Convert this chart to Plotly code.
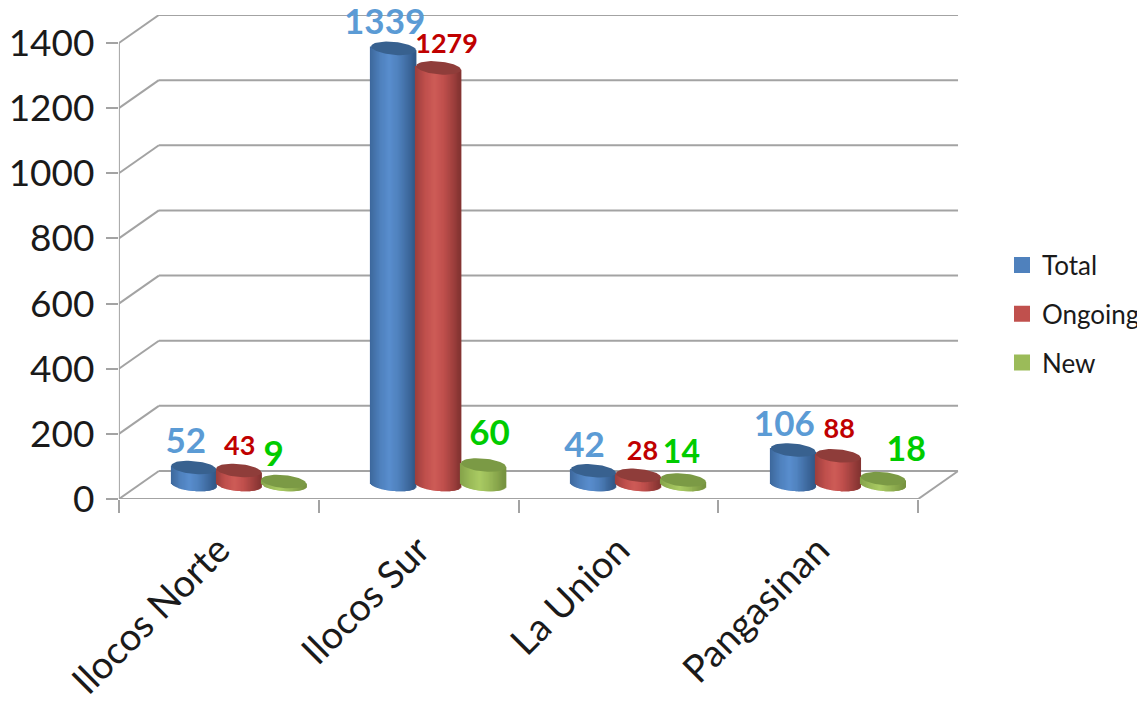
"""
Cylinder chart of projects per province, drawn with strips of narrow bars
"""

import numpy as np
import plotly.graph_objects as go

provinces = ["Ilocos Norte", "Ilocos Sur", "La Union", "Pangasinan"]
total = [52, 1339, 42, 106]
ongoing = [43, 1279, 28, 88]
new = [9, 60, 14, 18]
y_ticks = [0, 200, 400, 600, 800, 1000, 1200, 1400]

# label offsets from the cylinder top, in pixels (right, up)
total_label_dx = [-8, -9, -9, -9]
total_label_dy = [23, 23, 23, 23]
ongoing_label_dx = [1, 8, 4, 1]
ongoing_label_dy = [22, 22, 22, 25]
new_label_dx = [-10, 6, -2, 23]
new_label_dy = [24, 29, 25, 26]

GRID = "#a3a3a3"
FONT = "Lato"
W, H = 1137, 693  # the page body adds an 8px margin
PX_X = 1 / 200  # category units per pixel
PX_Y = 1 / 0.3257  # value units per pixel
DEPTH_X = 40 * PX_X
DEPTH_Y = 28 * PX_Y
FLOOR = 14.5 * PX_Y  # cylinder base height above the front axis
CYL_W = 45 * PX_X
RY = 6.5 * PX_Y
TILT = 2 * PX_Y
N_STRIPS = 46

series = [
    dict(name="Total", values=total, dx=total_label_dx, dy=total_label_dy, offset=-45,
         swatch="#4f81bd", edge=(50, 88, 135), mid=(79, 129, 189), light=(90, 142, 206),
         top="#38618f", label="#5b9bd5", sizes=[35, 35, 35, 35]),
    dict(name="Ongoing", values=ongoing, dx=ongoing_label_dx, dy=ongoing_label_dy, offset=0,
         swatch="#c0504d", edge=(132, 52, 50), mid=(192, 80, 77), light=(206, 92, 88),
         top="#8f3d3a", label="#c00000", sizes=[27, 27, 27, 27]),
    dict(name="New", values=new, dx=new_label_dx, dy=new_label_dy, offset=45,
         swatch="#9bbb59", edge=(118, 146, 64), mid=(155, 187, 89), light=(170, 203, 100),
         top="#7b9a45", label="#00cc00", sizes=[35, 35, 32, 34]),
]


def shade(t, s):
    """Colour across the cylinder, t runs from -1 to 1"""
    k = abs(t + 0.15) / 1.15
    if k < 0.35:
        a, b, f = s["light"], s["mid"], k / 0.35
    else:
        a, b, f = s["mid"], s["edge"], (k - 0.35) / 0.65
    f = min(f, 1)
    return "rgb(%d,%d,%d)" % tuple(a[i] + (b[i] - a[i]) * f for i in range(3))


fig = go.Figure()

for s in series:
    xs, bases, heights, colors = [], [], [], []
    for i, v in enumerate(s["values"]):
        cx = i + 0.5 + DEPTH_X / 2 + s["offset"] * PX_X
        for t in np.linspace(-1, 1, N_STRIPS + 1)[:-1] + 1 / N_STRIPS:
            low = FLOOR - RY * np.sqrt(1 - t * t) - TILT * t
            high = FLOOR + v - TILT * t
            xs.append(cx + t * CYL_W / 2)
            bases.append(low)
            heights.append(high - low)
            colors.append(shade(t, s))
    fig.add_trace(
        go.Bar(
            x=xs,
            y=heights,
            base=bases,
            width=CYL_W / N_STRIPS * 1.6,
            marker=dict(color=colors, line=dict(width=0)),
            showlegend=False,
            hoverinfo="skip",
        )
    )

# cylinder tops
angle = np.linspace(0, 2 * np.pi, 60)
for s in series:
    for i, v in enumerate(s["values"]):
        cx = i + 0.5 + DEPTH_X / 2 + s["offset"] * PX_X
        fig.add_trace(
            go.Scatter(
                x=cx + np.cos(angle) * CYL_W / 2,
                y=FLOOR + v + np.sin(angle) * RY - TILT * np.cos(angle),
                mode="lines",
                line=dict(width=0, color=s["top"]),
                fill="toself",
                fillcolor=s["top"],
                showlegend=False,
                hoverinfo="skip",
            )
        )

# data labels
for s in series:
    fig.add_trace(
        go.Scatter(
            x=[
                i + 0.5 + DEPTH_X / 2 + (s["offset"] + s["dx"][i]) * PX_X
                for i in range(len(provinces))
            ],
            y=[FLOOR + v + s["dy"][i] * PX_Y for i, v in enumerate(s["values"])],
            mode="text",
            text=[str(v) for v in s["values"]],
            textposition="middle center",
            textfont=dict(family=FONT, size=s["sizes"], color=s["label"], weight="bold"),
            cliponaxis=False,
            showlegend=False,
            hoverinfo="skip",
        )
    )

# legend only traces
for s in series:
    fig.add_trace(
        go.Scatter(
            x=[None],
            y=[None],
            name=s["name"],
            legendgroup=s["name"],
            mode="markers",
            marker=dict(symbol="square", size=16, color=s["swatch"]),
        )
    )

# walls and floor of the 3d frame
n = len(provinces)
frame = [(0, 0, n, 0), (n, 0, n + DEPTH_X, DEPTH_Y), (0, 0, 0, y_ticks[-1])]
for v in y_ticks:
    frame.append((0, v, DEPTH_X, v + DEPTH_Y))
    frame.append((DEPTH_X, v + DEPTH_Y, n + DEPTH_X, v + DEPTH_Y))
for x0, y0, x1, y1 in frame:
    fig.add_shape(
        type="line", x0=x0, y0=y0, x1=x1, y1=y1, layer="below",
        line=dict(color=GRID, width=2),
    )

fig.update_layout(
    width=W,
    height=H,
    margin=dict(l=0, r=0, t=0, b=0),
    paper_bgcolor="white",
    plot_bgcolor="white",
    barmode="overlay",
    font=dict(family=FONT, color="#1a1a1a"),
    legend=dict(
        x=995 / W,
        y=1 - 306 / H,
        xanchor="left",
        yanchor="middle",
        font=dict(size=26, family=FONT),
        tracegroupgap=12,
        itemclick=False,
    ),
)
fig.update_xaxes(
    automargin=False,
    domain=[111 / W, 951 / W],
    range=[0, n + DEPTH_X],
    tickmode="array",
    tickvals=[i + 0.5 for i in range(n)],
    ticktext=provinces,
    tickangle=-45,
    tickfont=dict(size=38, family=FONT),
    ticks="",
    ticklabelstandoff=20,
    showgrid=False,
    zeroline=False,
    showline=False,
    minor=dict(
        tickmode="array", tickvals=list(range(n + 1)), ticks="outside",
        ticklen=13, tickwidth=2, tickcolor=GRID, showgrid=False,
    ),
)
fig.update_yaxes(
    automargin=False,
    domain=[1 - 491 / H, 1 - 7 / H],
    range=[0, y_ticks[-1] + DEPTH_Y],
    tickmode="array",
    tickvals=y_ticks,
    tickfont=dict(size=37, family=FONT),
    ticks="outside",
    ticklen=12,
    tickwidth=2,
    tickcolor=GRID,
    ticklabelstandoff=4,
    showgrid=False,
    zeroline=False,
    showline=False,
)

fig.write_html("out.html")
